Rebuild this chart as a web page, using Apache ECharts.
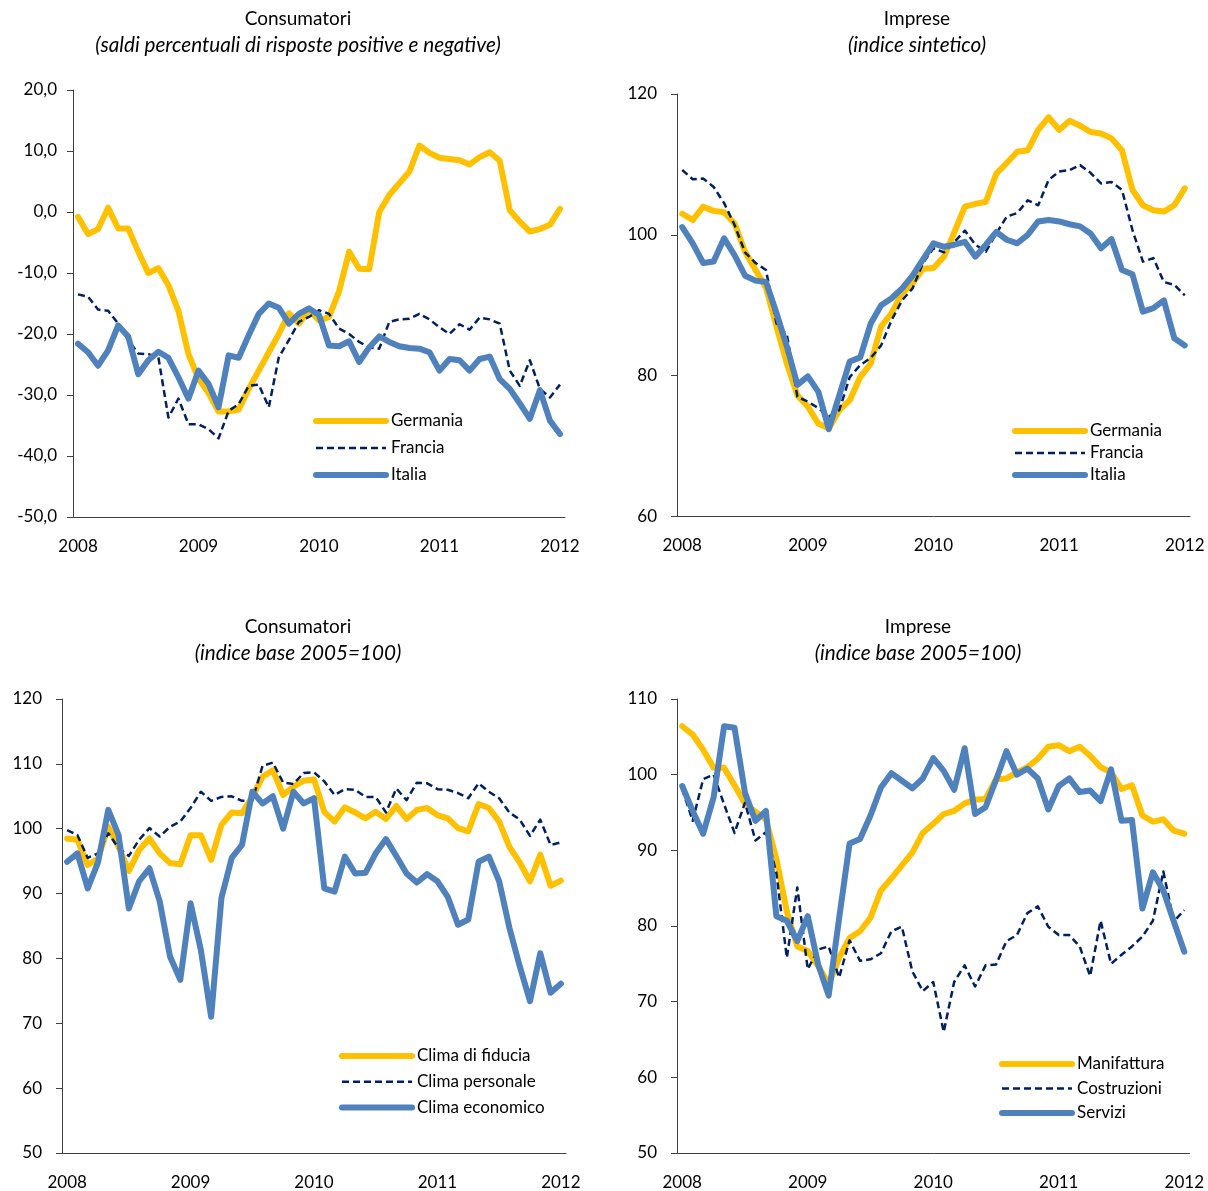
<!DOCTYPE html>
<html>
<head>
<meta charset="utf-8">
<title>Clima di fiducia</title>
<script src="https://cdn.jsdelivr.net/npm/echarts@6/dist/echarts.min.js"></script>
<style>
  html, body { margin: 0; padding: 0; background: #ffffff; }
  #chart { width: 1208px; height: 1191px; }
</style>
</head>
<body>
<div id="chart"></div>
<script>
// mesi da gennaio 2008 a gennaio 2012
const mesi = [];
for (let a = 2008; a <= 2012; a++) {
  for (let m = 1; m <= 12; m++) {
    if (a === 2012 && m > 1) break;
    mesi.push(a + '-' + (m < 10 ? '0' + m : m));
  }
}

// consumatori: saldi percentuali
const germaniaCons = [-0.8, -3.6, -2.8, 0.7, -2.7, -2.7, -6.5, -10.0, -9.2, -12.0,
  -16.2, -23.3, -27.3, -29.7, -32.7, -32.7, -32.4, -29.0, -26.0, -23.0,
  -20.0, -16.6, -18.3, -16.0, -17.8, -17.2, -13.0, -6.5, -9.3, -9.4,
  0.0, 2.8, 4.7, 6.6, 10.9, 9.7, 8.9, 8.7, 8.5, 7.8,
  9.0, 9.8, 8.4, 0.3, -1.6, -3.2, -2.8, -2.1, 0.5];
const franciaCons = [-13.5, -13.9, -16.0, -16.2, -18.3, -21.0, -23.2, -23.3, -23.8, -33.7,
  -30.6, -34.8, -34.8, -35.6, -37.1, -32.6, -31.5, -28.5, -28.3, -32.0,
  -23.8, -21.0, -18.0, -17.2, -16.1, -16.7, -19.1, -20.0, -21.3, -22.2,
  -22.4, -18.0, -17.6, -17.5, -16.7, -17.6, -18.9, -20.0, -18.4, -19.3,
  -17.3, -17.6, -18.3, -26.0, -28.5, -24.3, -29.0, -30.4, -28.3];
const italiaCons = [-21.6, -23.0, -25.2, -22.7, -18.6, -20.4, -26.6, -24.3, -22.9, -23.9,
  -27.1, -30.6, -26.0, -28.2, -32.0, -23.5, -23.9, -20.2, -16.7, -15.0,
  -15.7, -18.3, -16.7, -15.8, -16.9, -21.9, -22.0, -21.2, -24.6, -22.2,
  -20.4, -21.3, -22.0, -22.3, -22.4, -23.0, -26.0, -24.1, -24.3, -26.0,
  -24.1, -23.7, -27.4, -29.0, -31.4, -33.9, -29.2, -34.2, -36.4];

// imprese: indice sintetico
const germaniaImp = [103.0, 102.1, 104.0, 103.4, 103.2, 101.6, 97.6, 95.0, 92.5, 87.0,
  81.7, 77.2, 75.6, 73.2, 72.5, 75.1, 76.5, 79.8, 81.7, 87.0,
  88.9, 91.7, 93.1, 95.2, 95.3, 96.9, 100.4, 104.0, 104.4, 104.7,
  108.7, 110.2, 111.8, 112.0, 114.9, 116.7, 114.9, 116.2, 115.5, 114.6,
  114.4, 113.7, 112.0, 106.4, 104.2, 103.5, 103.3, 104.2, 106.6];
const franciaImp = [109.2, 107.9, 108.0, 106.8, 104.5, 101.4, 97.5, 96.0, 95.0, 87.4,
  85.8, 77.0, 76.3, 75.4, 74.2, 75.1, 79.8, 81.5, 82.5, 84.3,
  87.9, 90.7, 92.4, 96.0, 98.1, 97.5, 99.0, 100.6, 98.6, 97.6,
  100.2, 102.6, 103.1, 104.9, 104.2, 107.8, 109.0, 109.2, 109.9, 108.8,
  107.3, 107.5, 106.4, 100.7, 96.2, 96.7, 93.3, 92.9, 91.4];
const italiaImp = [101.1, 98.8, 96.0, 96.2, 99.5, 97.1, 94.2, 93.5, 93.3, 88.9,
  84.1, 78.7, 79.9, 77.7, 72.4, 77.2, 82.0, 82.6, 87.4, 90.0,
  91.0, 92.4, 94.2, 96.5, 98.8, 98.3, 98.6, 99.0, 96.9, 98.6,
  100.4, 99.3, 98.8, 100.0, 101.9, 102.1, 101.9, 101.5, 101.2, 100.2,
  98.1, 99.4, 95.0, 94.4, 89.1, 89.6, 90.7, 85.3, 84.3];

// consumatori: indice base 2005=100
const climaFiducia = [98.5, 98.3, 94.4, 95.4, 100.3, 97.2, 93.5, 96.7, 98.5, 96.2,
  94.7, 94.5, 99.0, 99.0, 95.2, 100.6, 102.5, 102.4, 104.9, 108.0,
  109.0, 105.2, 106.5, 107.4, 107.6, 102.6, 101.1, 103.3, 102.5, 101.6,
  102.6, 101.5, 103.5, 101.5, 102.9, 103.2, 102.1, 101.6, 100.1, 99.6,
  103.8, 103.2, 101.1, 97.2, 94.8, 91.9, 96.0, 91.2, 92.0];
const climaPersonale = [99.8, 99.0, 95.5, 96.2, 99.3, 97.0, 95.8, 98.3, 100.1, 98.8,
  100.3, 101.1, 103.2, 105.7, 104.3, 104.9, 105.0, 104.3, 104.3, 109.7,
  110.2, 107.1, 106.9, 108.6, 108.7, 107.3, 105.2, 106.1, 106.0, 104.9,
  104.9, 102.5, 106.2, 104.4, 107.1, 107.0, 106.1, 106.0, 105.5, 104.7,
  107.0, 105.7, 104.7, 102.5, 101.4, 98.9, 101.4, 97.5, 97.9];
const climaEconomico = [94.9, 96.2, 90.8, 94.8, 102.9, 99.0, 87.7, 91.9, 93.9, 88.8,
  80.3, 76.7, 88.5, 81.3, 71.0, 89.3, 95.5, 97.5, 105.7, 103.9,
  105.0, 100.0, 105.7, 103.9, 104.7, 90.8, 90.3, 95.7, 93.1, 93.2,
  96.2, 98.4, 95.8, 93.1, 91.7, 93.0, 91.9, 89.5, 85.2, 86.0,
  94.9, 95.7, 91.9, 84.7, 78.8, 73.4, 80.8, 74.7, 76.1];

// imprese: indice base 2005=100
const manifattura = [106.4, 105.3, 103.3, 100.9, 100.9, 98.6, 96.2, 95.1, 94.1, 88.9,
  81.9, 77.3, 76.7, 74.7, 72.3, 75.8, 78.4, 79.3, 81.1, 84.7,
  86.3, 88.0, 89.7, 92.3, 93.5, 94.8, 95.2, 96.2, 96.7, 96.8,
  99.4, 99.5, 100.3, 101.0, 102.1, 103.7, 103.9, 103.1, 103.7, 102.5,
  101.0, 100.3, 98.1, 98.6, 94.6, 93.8, 94.1, 92.6, 92.2];
const costruzioni = [98.1, 93.9, 99.4, 100.0, 96.1, 92.3, 96.3, 91.3, 92.4, 87.0,
  75.8, 85.1, 74.3, 76.9, 77.3, 73.2, 78.1, 75.4, 75.6, 76.4,
  79.3, 79.9, 74.0, 71.4, 72.6, 66.0, 72.6, 74.8, 72.0, 74.8,
  74.9, 78.0, 78.8, 81.7, 82.6, 79.9, 78.8, 78.8, 77.3, 73.4,
  80.7, 75.0, 76.2, 77.3, 78.6, 80.7, 87.2, 80.6, 82.1];
const servizi = [98.5, 95.2, 92.2, 97.0, 106.4, 106.2, 97.6, 93.9, 95.2, 81.3,
  80.7, 78.0, 81.3, 74.9, 70.8, 81.0, 90.9, 91.5, 94.6, 98.3,
  100.2, 99.2, 98.2, 99.5, 102.2, 100.5, 98.0, 103.5, 94.8, 95.7,
  99.3, 103.1, 100.0, 100.8, 99.5, 95.4, 98.5, 99.5, 97.7, 97.9,
  96.5, 100.7, 93.9, 94.0, 82.3, 87.1, 84.7, 80.6, 76.6];

const GIALLO = '#FFC000';
const BLU = '#4F81BD';
const NAVY = '#002060';
const ASSE = '#404040';
const FONT = 'Lato';

function linea(nome, valori, griglia, colore, tratteggio) {
  return {
    name: nome,
    type: 'line',
    xAxisIndex: griglia,
    yAxisIndex: griglia,
    data: valori,
    symbol: 'none',
    color: colore,
    lineStyle: {
      color: colore,
      width: tratteggio ? 2.5 : 6,
      type: tratteggio ? [7, 4] : 'solid',
      cap: tratteggio ? 'butt' : 'round',
      join: 'round'
    },
    emphasis: { disabled: true },
    silent: true
  };
}

function asseX(griglia) {
  return {
    type: 'category',
    gridIndex: griglia,
    data: mesi,
    boundaryGap: true,
    axisLine: { onZero: false, lineStyle: { color: ASSE, width: 1 } },
    axisTick: { interval: 1, length: 6, lineStyle: { color: ASSE } },
    axisLabel: {
      interval: function (i) { return i % 12 === 0; },
      formatter: function (v) { return v.slice(0, 4); },
      margin: 21,
      fontFamily: FONT,
      fontSize: 17,
      color: '#000'
    },
    splitLine: { show: false }
  };
}

function asseY(griglia, min, max, passo, decimali, margine) {
  return {
    type: 'value',
    gridIndex: griglia,
    min: min,
    max: max,
    interval: passo,
    axisLine: { show: true, lineStyle: { color: ASSE, width: 1 } },
    axisTick: { show: true, length: 6, lineStyle: { color: ASSE } },
    axisLabel: {
      margin: margine,
      fontFamily: FONT,
      fontSize: 17,
      color: '#000',
      formatter: function (v) {
        return decimali ? v.toFixed(1).replace('.', ',') : String(v);
      }
    },
    splitLine: { show: false }
  };
}

// legenda a colonna, y = centro della prima voce
function legenda(nomi, x, y, passo) {
  return {
    data: nomi,
    orient: 'vertical',
    left: x,
    top: y - 8.5,
    padding: 0,
    itemWidth: 70,
    itemHeight: 14,
    itemGap: passo - 17,
    selectedMode: false,
    textStyle: { fontFamily: FONT, fontSize: 17, color: '#000' },
    lineStyle: { width: 'inherit' },
    // niente pallino sull'icona
    itemStyle: { color: 'rgba(0,0,0,0)', borderWidth: 0, opacity: 0 }
  };
}

function titolo(testo, x, y, corsivo) {
  return {
    type: 'text',
    x: x,
    y: y,
    silent: true,
    style: {
      text: testo,
      font: corsivo ? 'italic 20.7px ' + FONT : '19px ' + FONT,
      fill: '#000',
      textAlign: 'center',
      textVerticalAlign: 'middle'
    }
  };
}

const chart = echarts.init(document.getElementById('chart'));

const option = {
  animation: false,
  backgroundColor: '#ffffff',
  graphic: [
    titolo('Consumatori', 298, 19, false),
    titolo('(saldi percentuali di risposte positive e negative)', 298, 45, true),
    titolo('Imprese', 917, 19, false),
    titolo('(indice sintetico)', 917, 45, true),
    titolo('Consumatori', 298, 627, false),
    titolo('(indice base 2005=100)', 298, 653, true),
    titolo('Imprese', 918, 627, false),
    titolo('(indice base 2005=100)', 918, 653, true)
  ],
  grid: [
    { left: 73, top: 90, width: 492, height: 427 },
    { left: 677, top: 94, width: 513, height: 422.5 },
    { left: 62, top: 699, width: 504, height: 454.3 },
    { left: 677, top: 699, width: 512.5, height: 457.7 }
  ],
  xAxis: [asseX(0), asseX(1), asseX(2), asseX(3)],
  yAxis: [
    asseY(0, -50, 20, 10, true, 16),
    asseY(1, 60, 120, 20, false, 20),
    asseY(2, 50, 120, 10, false, 20),
    asseY(3, 50, 110, 10, false, 20)
  ],
  legend: [
    legenda(['Germania', 'Francia', 'Italia'], 313, 421, 27),
    legenda(['Germania', 'Francia', 'Italia'], 1012, 431, 22),
    legenda(['Clima di fiducia', 'Clima personale', 'Clima economico'], 339, 1056, 25.7),
    legenda(['Manifattura', 'Costruzioni', 'Servizi'], 999, 1064, 24.5)
  ],
  series: [
    linea('Germania', germaniaCons, 0, GIALLO, false),
    linea('Francia', franciaCons, 0, NAVY, true),
    linea('Italia', italiaCons, 0, BLU, false),
    linea('Germania', germaniaImp, 1, GIALLO, false),
    linea('Francia', franciaImp, 1, NAVY, true),
    linea('Italia', italiaImp, 1, BLU, false),
    linea('Clima di fiducia', climaFiducia, 2, GIALLO, false),
    linea('Clima personale', climaPersonale, 2, NAVY, true),
    linea('Clima economico', climaEconomico, 2, BLU, false),
    linea('Manifattura', manifattura, 3, GIALLO, false),
    linea('Costruzioni', costruzioni, 3, NAVY, true),
    linea('Servizi', servizi, 3, BLU, false)
  ]
};

chart.setOption(option);
</script>
</body>
</html>
